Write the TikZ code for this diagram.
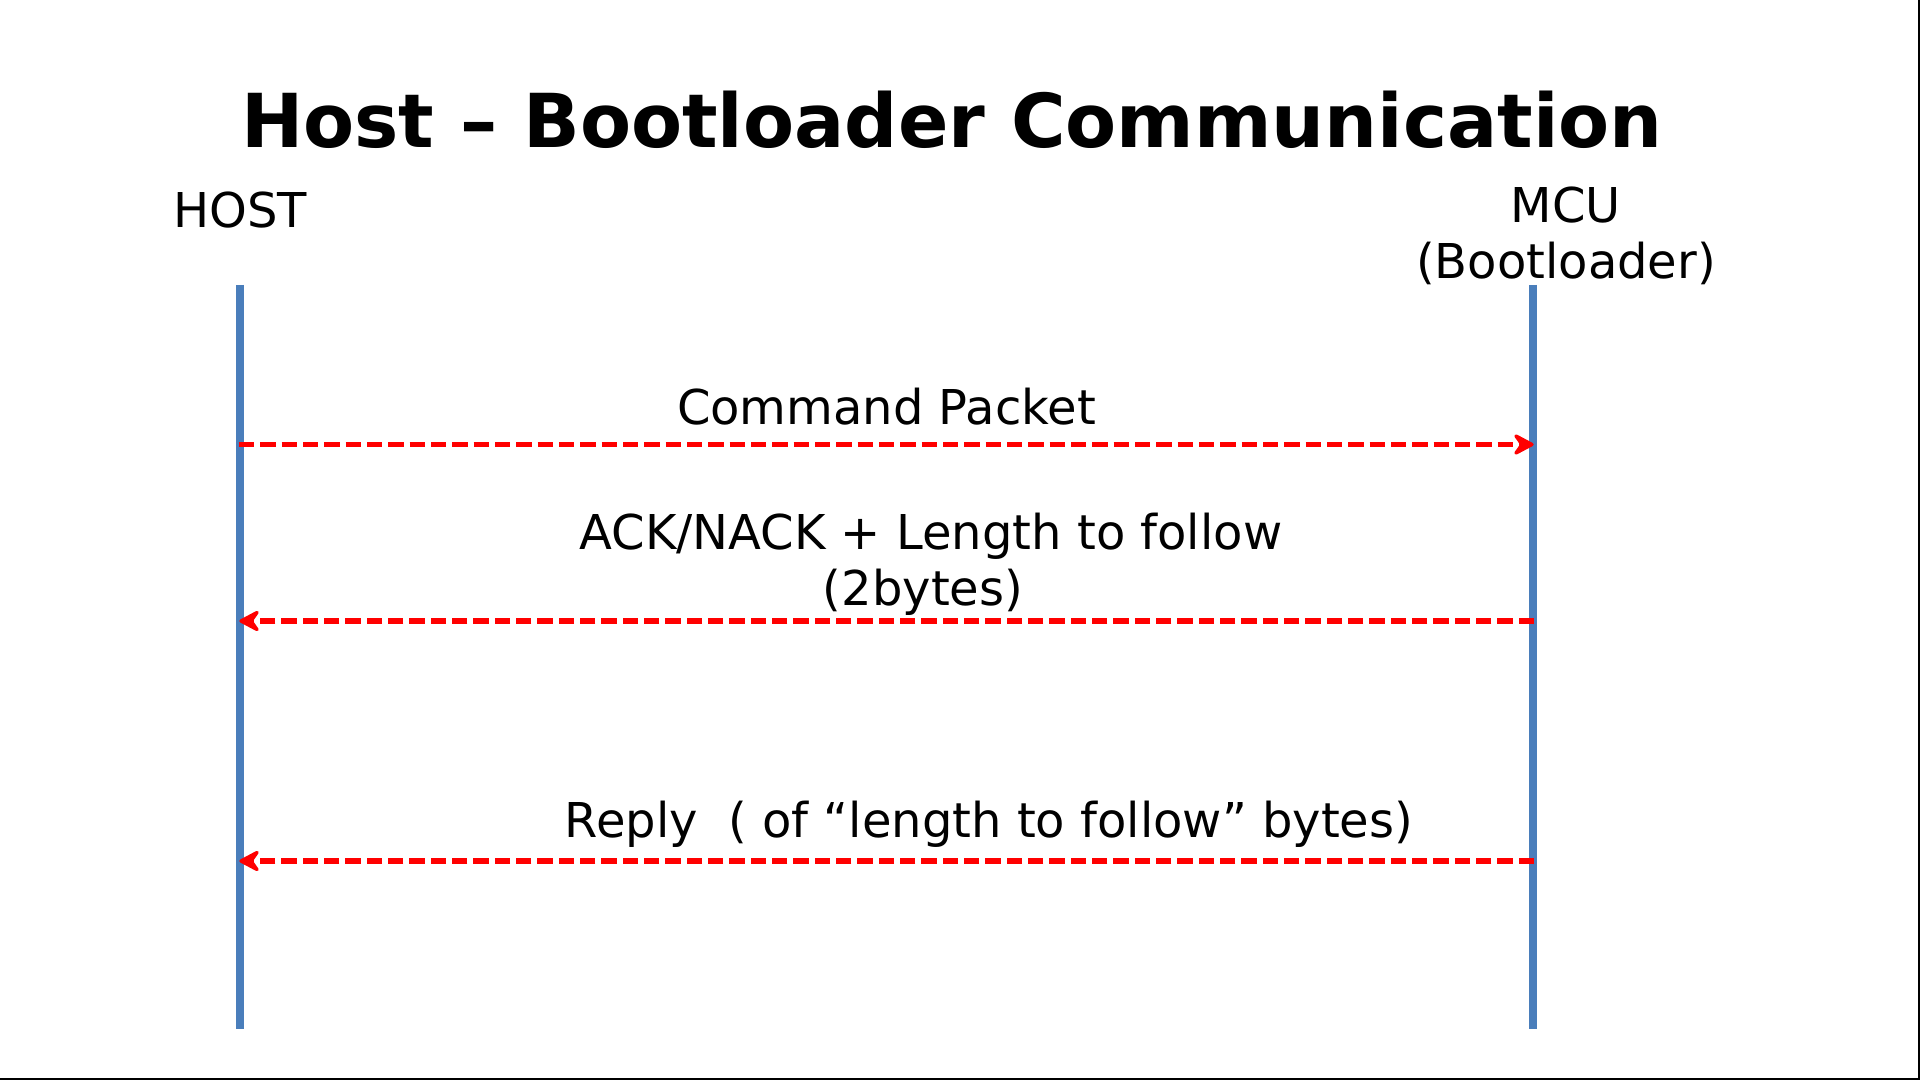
\documentclass[tikz,border=0pt]{standalone}
\usepackage{fontspec}
\setmainfont{DejaVu Sans}
\definecolor{lifeblue}{HTML}{4A7EBB}
\definecolor{msgred}{HTML}{FF0000}
\tikzset{
  lifeline/.style={draw=lifeblue, line width=6pt},
  msg/.style={draw=msgred, line width=4.2pt, dash pattern=on 11.4pt off 4.6pt},
  tiphead/.pic={\filldraw[msgred, line width=2.5pt, line join=round, solid]
      (-1,0) -- (-17,-8.5) -- (-11,0) -- (-17,8.5) -- cycle;},
  lbl/.style={font=\fontsize{36pt}{43pt}\selectfont, anchor=base, inner sep=0pt},
  ttl/.style={font=\fontsize{55.8pt}{66pt}\selectfont\bfseries, anchor=base, inner sep=0pt}
}
\begin{document}
\begin{tikzpicture}[x=0.75pt,y=-0.75pt]
\useasboundingbox (0,0) rectangle (1920,1080);
\fill[white] (0,0) rectangle (1920,1080);
\draw[black, line width=1.5pt] (1919,0) -- (1919,1079) -- (0,1079);
% title
\node[ttl] (title) at (952,148) {Host – Bootloader Communication};
% participants
\node[lbl] (host) at (240,227.5) {HOST};
\node[lbl] (mcu) at (1566,222.5) {MCU};
\node[lbl] (mcub) at (1566,279) {(Bootloader)};
% lifelines
\coordinate (hTop) at (240,285);
\coordinate (hBot) at (240,1029);
\coordinate (mTop) at (1533,285);
\coordinate (mBot) at (1533,1029);
\draw[lifeline] (hTop) -- (hBot);
\draw[lifeline] (mTop) -- (mBot);
% message endpoints
\coordinate (h1) at (239,444.5);
\coordinate (m1) at (1533,444.5);
\coordinate (h2) at (240,621);
\coordinate (m2) at (1534,621);
\coordinate (h3) at (240,861);
\coordinate (m3) at (1534,861);
\draw[msg, shorten >=8pt] (h1) -- (m1);
\pic at (m1) {tiphead};
\draw[msg, shorten >=8pt] (m2) -- (h2);
\pic[xscale=-1] at (h2) {tiphead};
\draw[msg, shorten >=8pt] (m3) -- (h3);
\pic[xscale=-1] at (h3) {tiphead};
% labels
\node[lbl] (l1) at (886.5,425) {Command Packet};
\node[lbl] (l2a) at (931,549.5) {ACK/NACK + Length to follow};
\node[lbl] (l2b) at (923,605) {(2bytes)};
\node[lbl] (l3) at (989,837) {Reply\ \ ( of “length to follow” bytes)};
\end{tikzpicture}
\end{document}
